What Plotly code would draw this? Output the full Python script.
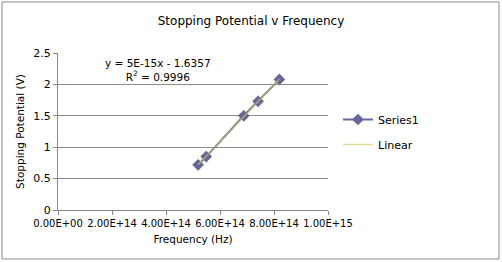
import plotly.graph_objects as go

freq = [5.19e14, 5.49e14, 6.88e14, 7.41e14, 8.20e14]
vstop = [0.72, 0.85, 1.50, 1.73, 2.08]
x_ticks = [0, 2e14, 4e14, 6e14, 8e14, 1e15]
x_tick_labels = ["0.00E+00", "2.00E+14", "4.00E+14", "6.00E+14", "8.00E+14", "1.00E+15"]
y_ticks = [0, 0.5, 1, 1.5, 2, 2.5]
y_tick_labels = ["0", "0.5", "1", "1.5", "2", "2.5"]

# least-squares trendline
n = len(freq)
mx = sum(freq) / n
my = sum(vstop) / n
slope = sum((a - mx) * (b - my) for a, b in zip(freq, vstop)) / sum((a - mx) ** 2 for a in freq)
icpt = my - slope * mx
trend_x = [min(freq), max(freq)]
trend_y = [slope * v + icpt for v in trend_x]

W, H = 502, 262
L, R, T, B = 58, 174, 53, 52
pw, ph = W - L - R, H - T - B

fig = go.Figure()
fig.add_trace(go.Scatter(
    x=freq, y=vstop, mode="lines+markers", name="Series1", legendgroup="a",
    line=dict(color="#666699", width=2),
    marker=dict(symbol="diamond", size=9, color="#666699"),
))
fig.add_trace(go.Scatter(
    x=trend_x, y=trend_y, mode="lines", name="Linear", legendgroup="b",
    line=dict(color="rgba(205,205,90,0.65)", width=1.5),
))

font = "DejaVu Sans, sans-serif"
fig.update_layout(
    width=W, height=H,
    margin=dict(l=L, r=R, t=T, b=B, autoexpand=False),
    paper_bgcolor="white", plot_bgcolor="white",
    font=dict(family=font, size=11, color="#000000"),
    title=dict(text="Stopping Potential v Frequency", x=0.5, xref="container",
               y=1 - 21 / H, yref="container", yanchor="middle", xanchor="center",
               font=dict(size=12)),
    xaxis=dict(range=[0, 1e15], tickvals=x_ticks, ticktext=x_tick_labels,
               showgrid=False, zeroline=False, showline=True, linecolor="#888888",
               ticks="outside", ticklen=4, tickcolor="#888888", tickangle=0,
               automargin=False,
               title=dict(text="Frequency (Hz)", font=dict(size=10.5), standoff=7),
               tickfont=dict(size=10)),
    yaxis=dict(range=[0, 2.5], tickvals=y_ticks, ticktext=y_tick_labels,
               showgrid=True, gridcolor="#8a8a8a", gridwidth=1, zeroline=False,
               showline=True, linecolor="#888888", automargin=False,
               ticks="outside", ticklen=4, tickcolor="#888888",
               title=dict(text="Stopping Potential (V)", font=dict(size=10.5), standoff=6),
               tickfont=dict(size=11)),
    legend=dict(x=(338 - L) / pw, y=(210 - 105) / ph, xanchor="left", yanchor="top",
                bgcolor="rgba(0,0,0,0)", font=dict(size=11), tracegroupgap=6,
                itemwidth=30),
    showlegend=True,
    annotations=[
        dict(text="y = 5E-15x - 1.6357<br>R<sup>2</sup> = 0.9996", xref="paper", yref="paper",
             x=(158 - L) / pw, y=(210 - 70) / ph, xanchor="center", yanchor="middle",
             showarrow=False, font=dict(size=10.5), align="center"),
    ],
    shapes=[
        dict(type="rect", xref="paper", yref="paper",
             x0=(2 - L) / pw, x1=(499 - L) / pw, y0=(H - 259 - B) / ph, y1=(H - 2 - B) / ph,
             line=dict(color="#8a8a8a", width=1), fillcolor="rgba(0,0,0,0)", layer="below"),
    ],
)

fig.write_html("out.html")
